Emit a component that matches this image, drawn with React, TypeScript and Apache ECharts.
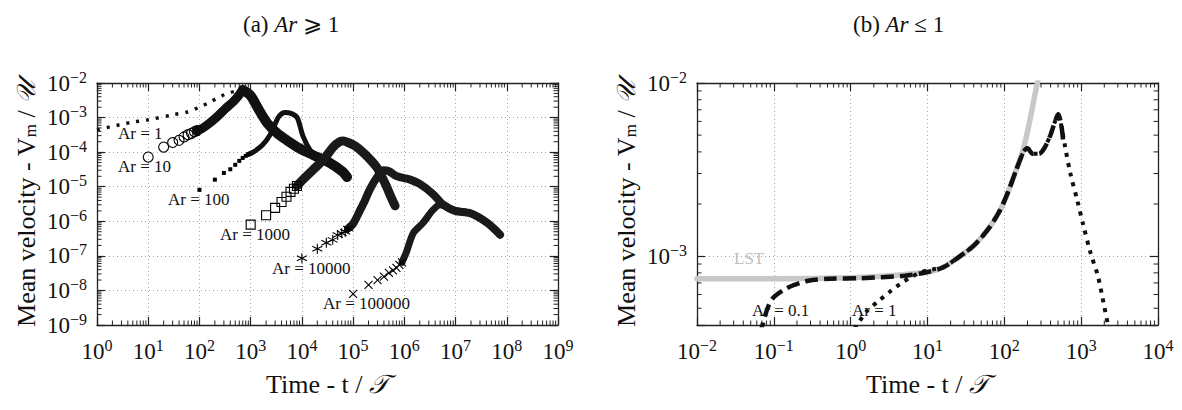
import React, { useEffect, useRef } from 'react';
import * as echarts from 'echarts';

const SERIF = '"Liberation Serif", "DejaVu Serif", "Times New Roman", serif';

// ---------------- Panel (a): Ar >= 1  (values are [t/T, Vm/U]) ----------------
const ar1DotsA = [[1, 4.4e-4], [1.8, 5.4e-4], [2.8, 6.2e-4], [5, 7.4e-4], [9.5, 8.5e-4], [30, 1.2e-3], [58, 1.45e-3], [100, 2.0e-3], [160, 2.8e-3], [250, 4.0e-3], [400, 5.3e-3], [700, 6.3e-3]];
const ar1BandA = [[700, 6.3e-3], [1000, 4.3e-3], [1350, 2.0e-3], [2100, 7.0e-4], [3300, 3.5e-4], [5100, 2.2e-4], [8100, 1.4e-4], [1.26e4, 1.0e-4], [2.0e4, 7.2e-5], [3.5e4, 4.9e-5], [6.3e4, 2.7e-5], [7.6e4, 1.9e-5]];
const ar10Markers = [[10, 7.2e-5], [20, 1.4e-4], [30, 1.9e-4], [40, 2.2e-4], [50, 2.75e-4], [60, 3.2e-4], [70, 3.5e-4], [80, 3.9e-4], [90, 4.2e-4]];
const ar10Band = [[90, 4.2e-4], [112, 4.8e-4], [150, 6.5e-4], [220, 1.05e-3], [320, 1.8e-3], [460, 2.9e-3], [600, 4.6e-3], [700, 6.3e-3]];
const ar100Markers = [[100, 8.1e-6], [200, 1.6e-5], [300, 2.5e-5], [400, 3.2e-5], [500, 4.3e-5], [600, 5.6e-5], [700, 6.8e-5], [800, 7.8e-5], [900, 8.6e-5]];
const ar100Band = [[900, 8.6e-5], [1120, 1.0e-4], [1700, 1.6e-4], [2400, 3.2e-4], [3000, 6.5e-4], [3600, 1.1e-3], [4700, 1.4e-3], [6300, 1.3e-3], [8100, 1.0e-3], [1.05e4, 2.9e-4], [1.45e4, 1.15e-4], [2.0e4, 7.2e-5]];
const ar1000Markers = [[1000, 8.0e-7], [2000, 1.5e-6], [3000, 2.45e-6], [4000, 3.6e-6], [5000, 5.1e-6], [6000, 7.1e-6], [7000, 8.7e-6], [8000, 1.05e-5]];
const ar1000Band = [[8000, 1.05e-5], [1.05e4, 1.6e-5], [1.66e4, 3.1e-5], [2.6e4, 5.9e-5], [4.1e4, 1.4e-4], [5.5e4, 2.0e-4], [6.5e4, 2.1e-4], [8.0e4, 1.9e-4], [1.1e5, 1.5e-4], [1.6e5, 9.5e-5], [2.3e5, 5.5e-5], [2.95e5, 3.5e-5], [3.6e5, 2.0e-5], [4.5e5, 1.0e-5], [5.5e5, 5.0e-6], [6.6e5, 2.8e-6]];
const ar10000Markers = [[1e4, 8.5e-8], [2e4, 1.6e-7], [3e4, 2.4e-7], [4e4, 2.9e-7], [5e4, 4.0e-7], [6e4, 4.5e-7], [7e4, 5.0e-7], [8e4, 6.2e-7]];
const ar10000Band = [[8e4, 6.2e-7], [1.0e5, 8.5e-7], [1.37e5, 2.1e-6], [1.7e5, 4.0e-6], [2.1e5, 8.1e-6], [2.95e5, 1.9e-5], [3.9e5, 3.0e-5], [5.0e5, 2.8e-5], [7.2e5, 2.0e-5], [1.3e6, 1.6e-5], [2.0e6, 1.2e-5], [3.6e6, 6.2e-6], [5.8e6, 3.0e-6], [9.8e6, 2.0e-6], [1.95e7, 1.7e-6], [4.2e7, 8.9e-7], [7.4e7, 4.1e-7]];
const ar100000Markers = [[1e5, 8.0e-9], [2e5, 1.45e-8], [3e5, 2.0e-8], [4e5, 2.5e-8], [5e5, 3.2e-8], [6e5, 3.8e-8], [7e5, 4.5e-8], [8e5, 5.5e-8], [9e5, 6.5e-8]];
const ar100000Band = [[9e5, 6.5e-8], [1.1e6, 1.3e-7], [1.5e6, 4.6e-7], [2.3e6, 8.9e-7], [3.6e6, 2.1e-6], [5.0e6, 3.0e-6], [8.9e6, 2.1e-6], [1.95e7, 1.7e-6], [4.2e7, 8.9e-7], [7.4e7, 4.1e-7]];
const labelsA = ['Ar = 1', 'Ar = 10', 'Ar = 100', 'Ar = 1000', 'Ar = 10000', 'Ar = 100000'];

// ---------------- Panel (b): Ar <= 1 ----------------
const lstB = [[0.01, 7.4e-4], [0.1, 7.4e-4], [1, 7.5e-4], [3.2, 7.7e-4], [10, 8.1e-4], [15.8, 8.6e-4], [25, 9.8e-4], [40, 1.15e-3], [63, 1.45e-3], [89, 1.86e-3], [112, 2.35e-3], [141, 3.1e-3], [178, 4.2e-3], [209, 5.75e-3], [240, 7.8e-3], [275, 1.05e-2]];
const ar01B = [[0.066, 3.5e-4], [0.091, 5.5e-4], [0.145, 6.5e-4], [0.28, 7.2e-4], [0.54, 7.4e-4], [1.3, 7.45e-4], [5.1, 7.7e-4], [10, 8.1e-4], [15.8, 8.6e-4], [25, 9.8e-4], [40, 1.15e-3], [63, 1.45e-3], [89, 1.86e-3], [112, 2.35e-3], [141, 3.1e-3], [178, 4.0e-3], [200, 4.2e-3], [234, 3.9e-3], [282, 3.9e-3], [331, 4.2e-3], [398, 5.0e-3], [457, 6.0e-3], [501, 6.6e-3], [550, 5.75e-3], [589, 4.4e-3]];
const ar1B = [[1.12, 3.8e-4], [1.62, 4.8e-4], [2.3, 5.5e-4], [3.2, 6.2e-4], [4.4, 6.9e-4], [6.2, 7.6e-4], [8.5, 8.1e-4], [12, 8.4e-4], [15.8, 8.6e-4], [25, 9.8e-4], [40, 1.15e-3], [63, 1.45e-3], [89, 1.86e-3], [112, 2.35e-3], [141, 3.1e-3], [178, 4.0e-3], [200, 4.2e-3], [234, 3.9e-3], [282, 3.9e-3], [331, 4.2e-3], [398, 5.0e-3], [457, 6.0e-3], [501, 6.6e-3], [537, 6.0e-3], [617, 4.3e-3], [724, 3.0e-3], [890, 2.1e-3], [1070, 1.5e-3], [1320, 1.05e-3], [1660, 7.6e-4], [2000, 5.1e-4], [2290, 3.8e-4]];
const labelsB = ['LST', 'Ar = 0.1', 'Ar = 1'];

// axis ranges
const X_A: [number, number] = [1, 1e9];
const Y_A: [number, number] = [1e-9, 1e-2];
const X_B: [number, number] = [1e-2, 1e4];
const Y_B: [number, number] = [4e-4, 1e-2];
const MINOR_STEPS = [2, 3, 4, 5, 6, 7, 8, 9];

function minorValues(lo: number, hi: number): number[] {
  const out: number[] = [];
  const e0 = Math.floor(Math.log10(lo) + 1e-9);
  const e1 = Math.ceil(Math.log10(hi) - 1e-9);
  for (let e = e0; e < e1; e++) {
    for (const m of MINOR_STEPS) {
      const v = m * Math.pow(10, e);
      if (v > lo * 1.0001 && v < hi * 0.9999) out.push(v);
    }
  }
  return out;
}

const supLabel = (v: number) => {
  const e = Math.log10(v);
  const r = Math.round(e);
  if (Math.abs(e - r) > 1e-6) return '';
  const exp = r < 0 ? `\u2212${-r}` : `${r}`;
  return `{b|10}{s|${exp}}`;
};
const tickRich = {
  b: { fontFamily: SERIF, fontSize: 23, color: '#111', lineHeight: 28 },
  s: { fontFamily: SERIF, fontSize: 16, color: '#111', verticalAlign: 'top', lineHeight: 17 },
};
const AXIS_COLOR = '#222';
const gridLine = { show: true, lineStyle: { type: [1, 3], color: '#a8a8a8', width: 1 } };

function xAxisPair(gridIndex: number, range: [number, number], split: number) {
  return [
    {
      type: 'log', logBase: 10, gridIndex, min: range[0], max: range[1], splitNumber: split,
      position: 'bottom',
      axisLine: { lineStyle: { color: AXIS_COLOR, width: 1.3 } },
      axisTick: { inside: true, length: 8, lineStyle: { color: AXIS_COLOR, width: 1.2 } },
      axisLabel: { formatter: supLabel, rich: tickRich, margin: 12 },
      splitLine: gridLine,
      minorTick: { show: false },
      name: '{t|Time - t / }{c|𝒯}', nameLocation: 'middle', nameGap: 46,
      nameTextStyle: { rich: { t: { fontFamily: SERIF, fontSize: 26, color: '#111' }, c: { fontFamily: SERIF, fontSize: 26, color: '#111', fontStyle: 'italic' } } },
    },
    {
      type: 'log', logBase: 10, gridIndex, min: range[0], max: range[1], splitNumber: split,
      position: 'top',
      axisLine: { lineStyle: { color: AXIS_COLOR, width: 1.3 } },
      axisTick: { inside: true, length: 8, lineStyle: { color: AXIS_COLOR, width: 1.2 } },
      axisLabel: { show: false }, splitLine: { show: false },
    },
  ];
}
function yAxisPair(gridIndex: number, range: [number, number], split: number) {
  return [
    {
      type: 'log', logBase: 10, gridIndex, min: range[0], max: range[1], splitNumber: split,
      position: 'left',
      axisLine: { lineStyle: { color: AXIS_COLOR, width: 1.3 } },
      axisTick: { inside: true, length: 8, lineStyle: { color: AXIS_COLOR, width: 1.2 } },
      axisLabel: { formatter: supLabel, rich: tickRich, margin: 10 },
      splitLine: gridLine,
      name: '{t|Mean velocity - V}{m|m}{t| / }{c|𝒰}', nameLocation: 'middle', nameGap: 58,
      nameTextStyle: { rich: { t: { fontFamily: SERIF, fontSize: 26, color: '#111' }, m: { fontFamily: SERIF, fontSize: 17, color: '#111', verticalAlign: 'bottom' }, c: { fontFamily: SERIF, fontSize: 26, color: '#111', fontStyle: 'italic' } } },
    },
    {
      type: 'log', logBase: 10, gridIndex, min: range[0], max: range[1], splitNumber: split,
      position: 'right',
      axisLine: { lineStyle: { color: AXIS_COLOR, width: 1.3 } },
      axisTick: { inside: true, length: 8, lineStyle: { color: AXIS_COLOR, width: 1.2 } },
      axisLabel: { show: false }, splitLine: { show: false },
    },
  ];
}

function minorTickSeries(xi: number, yi: number, xr: [number, number], yr: [number, number]) {
  const st = { stroke: AXIS_COLOR, lineWidth: 1 };
  const xs = minorValues(xr[0], xr[1]).map((v) => [v, yr[0]]);
  const ys = minorValues(yr[0], yr[1]).map((v) => [xr[0], v]);
  return [
    {
      type: 'custom', xAxisIndex: xi, yAxisIndex: yi, silent: true, clip: false, z: 5, data: xs,
      renderItem: (_p: any, api: any) => {
        const t = api.value(0);
        const b = api.coord([t, yr[0]]);
        const tp = api.coord([t, yr[1]]);
        return { type: 'group', children: [
          { type: 'line', shape: { x1: b[0], y1: b[1], x2: b[0], y2: b[1] - 4.5 }, style: st },
          { type: 'line', shape: { x1: tp[0], y1: tp[1], x2: tp[0], y2: tp[1] + 4.5 }, style: st },
        ] };
      },
    },
    {
      type: 'custom', xAxisIndex: xi, yAxisIndex: yi, silent: true, clip: false, z: 5, data: ys,
      renderItem: (_p: any, api: any) => {
        const v = api.value(1);
        const l = api.coord([xr[0], v]);
        const r = api.coord([xr[1], v]);
        return { type: 'group', children: [
          { type: 'line', shape: { x1: l[0], y1: l[1], x2: l[0] + 4.5, y2: l[1] }, style: st },
          { type: 'line', shape: { x1: r[0], y1: r[1], x2: r[0] - 4.5, y2: r[1] }, style: st },
        ] };
      },
    },
  ];
}

const band = (data: number[][], xi: number, yi: number, width: number, color = '#111', z = 2) => ({
  type: 'line', xAxisIndex: xi, yAxisIndex: yi, data, showSymbol: false, symbol: 'none', smooth: 0.3,
  lineStyle: { color, width, cap: 'round', join: 'round' }, silent: true, z,
});
const dashed = (data: number[][], xi: number, yi: number, width: number, dash: number[], z = 3) => ({
  type: 'line', xAxisIndex: xi, yAxisIndex: yi, data, showSymbol: false, symbol: 'none', smooth: 0.3,
  lineStyle: { color: '#111', width, type: dash, cap: 'butt' }, silent: true, z,
});
const markers = (data: number[][], symbol: string, size: number, filled: boolean) => ({
  type: 'scatter', xAxisIndex: 0, yAxisIndex: 0, data, symbol, symbolSize: size, silent: true, z: 4,
  itemStyle: { color: filled ? '#000' : 'rgba(0,0,0,0)', borderColor: '#000', borderWidth: filled ? 0 : 1.1, opacity: 1 },
});

const ASTERISK = 'path://M5 0L5 10M0.7 2.5L9.3 7.5M0.7 7.5L9.3 2.5';
const CROSS = 'path://M0 0L10 10M0 10L10 0';

const labelStyle = (text: string, x: number, y: number, color = '#111') => ({
  type: 'text', x, y, silent: true, z: 10,
  style: { text, fill: color, font: `17px ${SERIF}`, align: 'left', verticalAlign: 'middle', textAlign: 'left', textVerticalAlign: 'middle' },
});

const titleStyle = { fontFamily: SERIF, fontSize: 23, fontWeight: 'normal', color: '#111', rich: { i: { fontFamily: SERIF, fontSize: 23, fontStyle: 'italic', color: '#111' } } };

const option: any = {
  animation: false,
  backgroundColor: '#fff',
  textStyle: { fontFamily: SERIF },
  title: [
    { text: '(a) {i|Ar} ⩾ 1', left: 238, top: 8, textStyle: titleStyle },
    { text: '(b) {i|Ar} ≤ 1', left: 848, top: 8, textStyle: titleStyle },
  ],
  grid: [
    { left: 97, top: 83, width: 461, height: 242 },
    { left: 697, top: 83, width: 461, height: 242 },
  ],
  xAxis: [...xAxisPair(0, X_A, 9), ...xAxisPair(1, X_B, 6)],
  yAxis: [...yAxisPair(0, Y_A, 7), ...yAxisPair(1, Y_B, 2)],
  series: [
    // panel (a)
    band(ar1BandA, 0, 0, 10),
    band(ar10Band, 0, 0, 9),
    band(ar100Band, 0, 0, 5),
    band(ar1000Band, 0, 0, 9, '#1a1a1a'),
    band(ar10000Band, 0, 0, 8, '#1a1a1a'),
    band(ar100000Band, 0, 0, 7, '#1a1a1a'),
    dashed(ar1DotsA, 0, 0, 3.5, [3, 7]),
    markers(ar10Markers, 'circle', 10, false),
    markers(ar100Markers, 'rect', 4, true),
    markers(ar1000Markers, 'rect', 9, false),
    markers(ar10000Markers, ASTERISK, 10, false),
    markers(ar100000Markers, CROSS, 8, false),
    ...minorTickSeries(0, 0, X_A, Y_A),
    // panel (b)
    band(lstB, 2, 2, 5.5, '#c8c8c8', 2),
    dashed(ar1B, 2, 2, 4, [4, 6], 3),
    dashed(ar01B, 2, 2, 4.5, [13, 6], 4),
    ...minorTickSeries(2, 2, X_B, Y_B),
  ],
  graphic: [
    labelStyle(labelsA[0], 118, 133),
    labelStyle(labelsA[1], 118, 166),
    labelStyle(labelsA[2], 168, 199),
    labelStyle(labelsA[3], 220, 234),
    labelStyle(labelsA[4], 272, 268),
    labelStyle(labelsA[5], 323, 303),
    labelStyle(labelsB[0], 734, 258, '#c0c0c0'),
    labelStyle(labelsB[1], 752, 310),
    labelStyle(labelsB[2], 852, 310),
  ],
};

export default function App() {
  const ref = useRef<HTMLDivElement>(null);
  useEffect(() => {
    if (!ref.current) return;
    const chart = echarts.init(ref.current, null, { renderer: 'svg' });
    chart.setOption(option);
    return () => chart.dispose();
  }, []);
  return <div ref={ref} style={{ width: 1182, height: 410, position: 'fixed', left: 0, top: 0, background: '#fff' }} />;
}
